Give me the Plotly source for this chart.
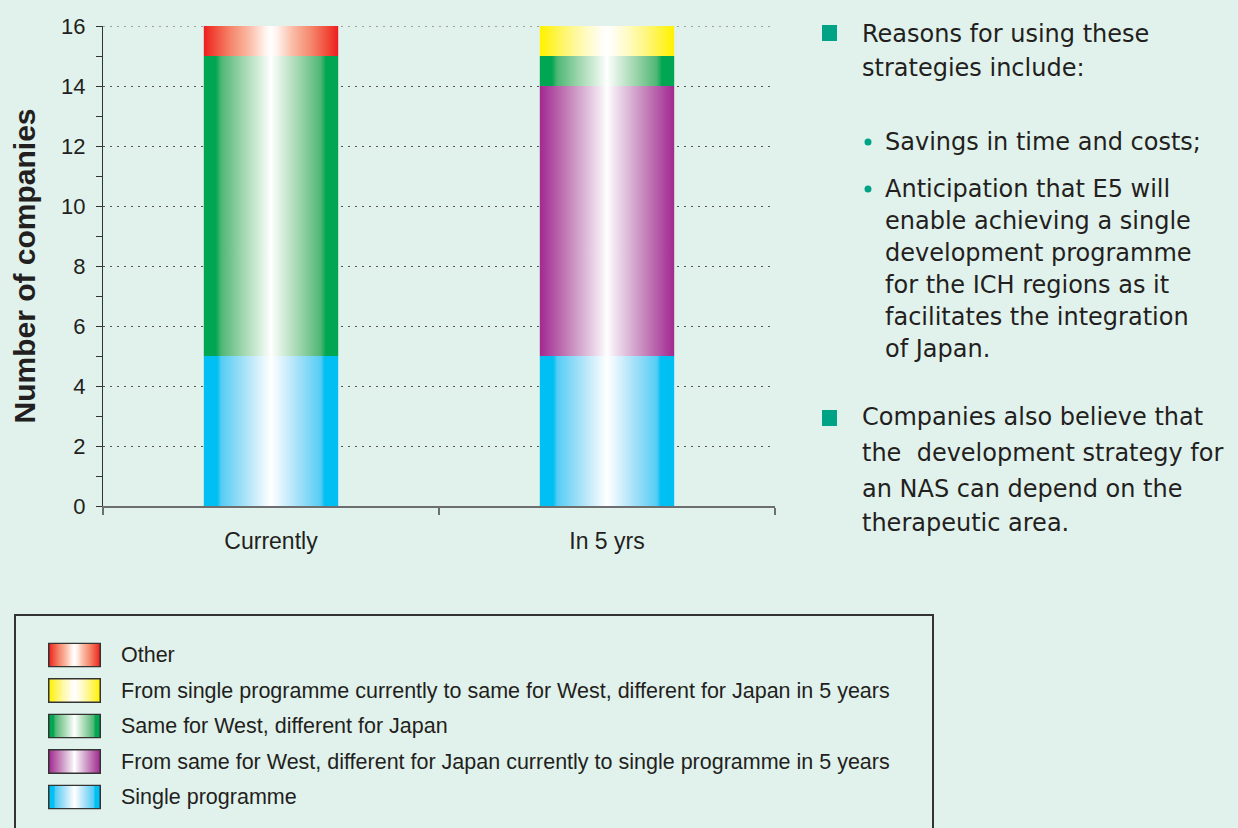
import base64
import plotly.graph_objects as go

# ---------------- data ----------------
categories = ["Currently", "In 5 yrs"]
series_names = [
    "Single programme",
    "From same for West, different for Japan currently to single programme in 5 years",
    "Same for West, different for Japan",
    "From single programme currently to same for West, different for Japan in 5 years",
    "Other",
]
single_programme = [5, 5]
same_to_single = [0, 9]
same_west_diff_japan = [10, 1]
single_to_same = [0, 1]
other = [1, 0]
series_values = [single_programme, same_to_single, same_west_diff_japan, single_to_same, other]
y_tick_values = [0, 2, 4, 6, 8, 10, 12, 14, 16]

# ---------------- styles ----------------
BG = "#e1f2ec"
TXT = "#231f20"
TEAL = "#00a386"
GRID = "#555555"
grad_stops = [
    [(0, "#00bff3"), (0.1, "#00bff3"), (0.13, "#55cdf4"), (0.3, "#a6e1f8"), (0.44, "#e6f6fd"), (0.5, "#ffffff"),
     (0.56, "#e6f6fd"), (0.7, "#a6e1f8"), (0.87, "#55cdf4"), (0.9, "#00bff3"), (1, "#00bff3")],
    [(0, "#a12b8c"), (0.04, "#a8389a"), (0.18, "#bf74b2"), (0.32, "#d8b0d3"), (0.44, "#f1e2ef"), (0.5, "#ffffff"),
     (0.56, "#f1e2ef"), (0.68, "#d8b0d3"), (0.82, "#bf74b2"), (0.96, "#a8389a"), (1, "#a12b8c")],
    [(0, "#00a651"), (0.09, "#00a651"), (0.13, "#4fb775"), (0.3, "#a3d8b1"), (0.44, "#e2f3e6"), (0.5, "#ffffff"),
     (0.56, "#e2f3e6"), (0.7, "#a3d8b1"), (0.87, "#4fb775"), (0.91, "#00a651"), (1, "#00a651")],
    [(0, "#fff200"), (0.05, "#fff31a"), (0.2, "#fff67a"), (0.34, "#fffbc0"), (0.45, "#fffdf0"), (0.5, "#ffffff"),
     (0.55, "#fffdf0"), (0.66, "#fffbc0"), (0.8, "#fff67a"), (0.95, "#fff31a"), (1, "#fff200")],
    [(0, "#ed1c24"), (0.05, "#ef3b2e"), (0.2, "#f5866b"), (0.34, "#fbbca7"), (0.45, "#fff0ea"), (0.5, "#ffffff"),
     (0.55, "#fff0ea"), (0.66, "#fbbca7"), (0.8, "#f5866b"), (0.95, "#ef3b2e"), (1, "#ed1c24")],
]

W, H = 1238, 828
L, R, T, B = 103, 775, 26, 506
HALF = 0.2


def px2x(px):
    return (px - L) / (R - L)


def py2y(py):
    return (B - py) / (B - T)


fig = go.Figure()

# stacked bars as gradient-filled rectangles
bases = [0] * len(categories)
for s, (name, vals) in enumerate(zip(series_names, series_values)):
    for i, v in enumerate(vals):
        if v <= 0:
            continue
        b = bases[i]
        fig.add_trace(go.Scatter(
            x=[i - HALF, i + HALF, i + HALF, i - HALF, i - HALF],
            y=[b, b, b + v, b + v, b],
            mode="lines",
            fill="toself",
            fillgradient=dict(type="horizontal",
                              colorscale=[[o, c] for o, c in grad_stops[s]]),
            line=dict(width=0),
            name=name,
            showlegend=False,
            hoverinfo="text",
            text=f"{categories[i]} – {name}: {v}",
        ))
        bases[i] += v

fig.update_layout(
    width=W, height=H,
    paper_bgcolor=BG, plot_bgcolor=BG,
    margin=dict(l=L, r=W - R, t=T, b=H - B),
    showlegend=False,
    font=dict(family="Arial, Liberation Sans, sans-serif", color=TXT),
)

fig.update_xaxes(
    range=[-0.5, 1.5],
    tickmode="array", tickvals=list(range(len(categories))), ticktext=categories,
    ticks="", showgrid=False, zeroline=False,
    showline=True, linecolor="#6d6e70", linewidth=1.5,
    tickfont=dict(size=23, color=TXT),
    ticklabelstandoff=14,
    minor=dict(tickmode="array", tickvals=[-0.5, 0.5, 1.5], ticks="outside",
               ticklen=7, tickcolor="#6d6e70", tickwidth=1.5, showgrid=False),
)
fig.update_yaxes(
    range=[0, 16],
    tickmode="array", tickvals=y_tick_values,
    ticks="outside", ticklen=6, tickcolor="#333333", tickwidth=1,
    showline=True, linecolor="#333333", linewidth=1,
    showgrid=True, gridcolor=GRID, gridwidth=1, griddash="2px,5px",
    zeroline=False,
    tickfont=dict(size=22, color=TXT),
    ticklabelstandoff=6,
    minor=dict(dtick=1, ticks="outside", ticklen=6, tickcolor="#333333", tickwidth=1, showgrid=False),
    title=dict(text="Number of companies", standoff=16,
               font=dict(size=30, color=TXT, weight="bold", family="Arial, Liberation Sans, sans-serif")),
)

shapes = []
images = []
annotations = []

# top gridline (plotly omits gridlines lying on the plot edge)
shapes.append(dict(type="line", xref="paper", yref="y", x0=0, x1=1,
                   y0=y_tick_values[-1], y1=y_tick_values[-1],
                   line=dict(color=GRID, width=1, dash="2px,5px"), layer="below"))

# ---------------- custom legend ----------------
shapes.append(dict(type="rect", xref="paper", yref="paper",
                   x0=px2x(15), x1=px2x(933), y0=py2y(845), y1=py2y(615),
                   line=dict(color="#333333", width=2), fillcolor="rgba(0,0,0,0)", layer="above"))

legend_order = list(range(len(series_names)))[::-1]
for k, s in enumerate(legend_order):
    cy = 655 + k * 35.5
    stops = "".join(f"<stop offset='{o}' stop-color='{c}'/>" for o, c in grad_stops[s])
    svg = ("<svg xmlns='http://www.w3.org/2000/svg' width='53' height='25'>"
           "<defs><linearGradient id='g' x1='0' x2='1' y1='0' y2='0'>" + stops +
           "</linearGradient></defs>"
           "<rect x='0.75' y='0.75' width='51.5' height='23.5' fill='url(#g)' stroke='#333333' stroke-width='1.5'/>"
           "</svg>")
    src = "data:image/svg+xml;base64," + base64.b64encode(svg.encode()).decode()
    images.append(dict(source=src, xref="paper", yref="paper",
                       x=px2x(48), y=py2y(cy - 12.5), sizex=53 / (R - L), sizey=25 / (B - T),
                       xanchor="left", yanchor="top", sizing="stretch", layer="above"))
    annotations.append(dict(text=series_names[s], xref="paper", yref="paper",
                            x=px2x(119), y=py2y(cy), xanchor="left", yanchor="middle",
                            showarrow=False, font=dict(size=21.5, color=TXT,
                                                       family="Arial, Liberation Sans, sans-serif")))

# ---------------- side notes ----------------
NOTE_FONT = dict(family="DejaVu Sans, Open Sans, sans-serif", size=24, color=TXT)
note_lines = [
    (861, 34, "Reasons for using these"),
    (861, 68, "strategies include:"),
    (884, 142, "Savings in time and costs;"),
    (884, 189, "Anticipation that E5 will"),
    (884, 221, "enable achieving a single"),
    (884, 253, "development programme"),
    (884, 285, "for the ICH regions as it"),
    (884, 317, "facilitates the integration"),
    (884, 349, "of Japan."),
    (861, 417, "Companies also believe that"),
    (861, 453, "the \u00a0development strategy for"),
    (861, 489, "an NAS can depend on the"),
    (861, 523, "therapeutic area."),
]
for x, y, t in note_lines:
    annotations.append(dict(text=t, xref="paper", yref="paper", x=px2x(x), y=py2y(y),
                            xanchor="left", yanchor="middle", showarrow=False,
                            borderpad=0, font=NOTE_FONT))

for (x0, y0) in [(822, 25), (822, 410)]:
    shapes.append(dict(type="rect", xref="paper", yref="paper",
                       x0=px2x(x0), x1=px2x(x0 + 15), y0=py2y(y0 + 16), y1=py2y(y0),
                       line=dict(width=0), fillcolor=TEAL, layer="above"))
for (cx, cy) in [(868, 142), (868, 189)]:
    shapes.append(dict(type="circle", xref="paper", yref="paper",
                       x0=px2x(cx - 3.5), x1=px2x(cx + 3.5), y0=py2y(cy + 3.5), y1=py2y(cy - 3.5),
                       line=dict(width=0), fillcolor=TEAL, layer="above"))

fig.update_layout(shapes=shapes, images=images, annotations=annotations)

fig.write_html("out.html",
               config={"displayModeBar": False},
               post_script="document.body.style.margin='0px';document.body.style.overflow='hidden';")
